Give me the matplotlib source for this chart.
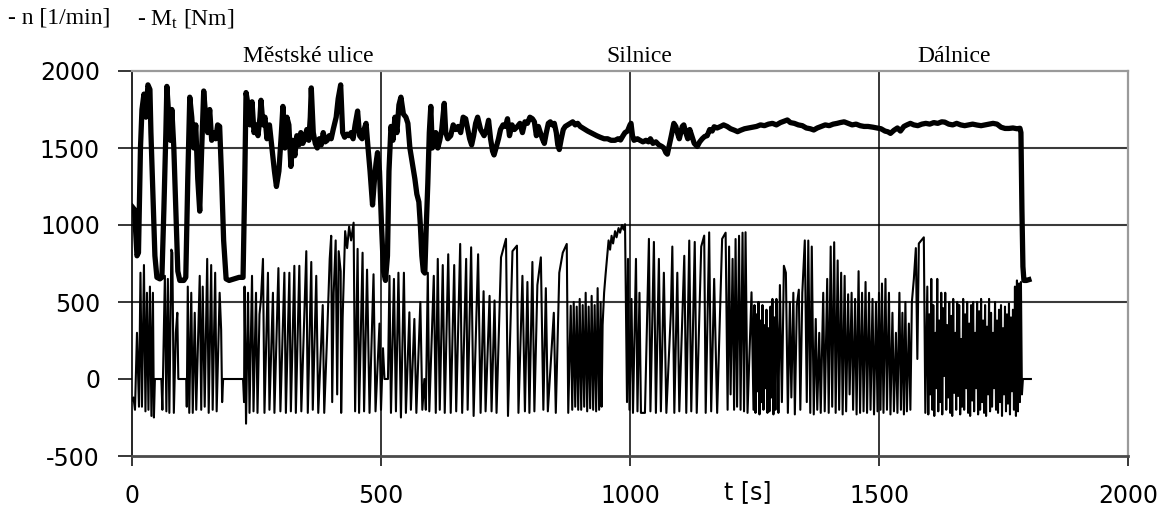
import matplotlib
matplotlib.use("Agg")
import matplotlib.pyplot as plt
import matplotlib.transforms as mtransforms

# ---------------- data ----------------
x_ticks = [0, 500, 1000, 1500, 2000]
y_ticks = [-500, 0, 500, 1000, 1500, 2000]
section_labels = ["Městské ulice", "Silnice", "Dálnice"]
section_pos = [355, 1019, 1651]          # t [s] where the section labels are centred

# engine speed n [1/min]
n_t = [0, 5, 10, 13, 17, 20, 24, 28, 32, 36, 38, 42, 46, 50, 56, 60, 64, 68, 70, 74,
       77, 80, 84, 88, 92, 96, 104, 108, 112, 116, 120, 124, 128, 132, 136, 140, 144, 148, 152, 156,
       160, 164, 168, 172, 176, 180, 184, 189, 195, 205, 215, 223, 226, 229, 233, 237, 241, 245, 249, 253,
       257, 259, 263, 267, 271, 276, 281, 286, 290, 295, 300, 303, 307, 311, 315, 319, 323, 327, 331, 335,
       339, 343, 347, 351, 355, 358, 360, 364, 368, 372, 376, 380, 384, 388, 392, 396, 400, 404, 410, 414,
       419, 423, 427, 432, 436, 440, 444, 448, 453, 457, 462, 466, 470, 474, 478, 483, 487, 490, 493, 497,
       501, 505, 509, 513, 516, 520, 524, 528, 532, 536, 540, 545, 550, 554, 558, 563, 568, 572, 576, 579,
       582, 585, 588, 591, 594, 597, 600, 603, 606, 610, 614, 618, 622, 627, 630, 634, 640, 645, 650, 655,
       660, 665, 670, 673, 678, 682, 686, 690, 694, 700, 707, 712, 716, 720, 724, 727, 731, 736, 740, 745,
       750, 754, 758, 763, 768, 774, 779, 784, 789, 794, 799, 804, 808, 812, 816, 820, 824, 828, 832, 836,
       840, 844, 848, 852, 855, 858, 862, 866, 870, 875, 880, 885, 890, 895, 900, 905, 910, 915, 921, 927,
       933, 940, 948, 955, 962, 970, 976, 981, 986, 990, 995, 1000, 1002, 1005, 1008, 1015, 1020, 1026, 1032, 1037,
       1041, 1046, 1052, 1058, 1064, 1068, 1072, 1075, 1079, 1083, 1088, 1092, 1096, 1099, 1102, 1105, 1108, 1112, 1116, 1120,
       1124, 1129, 1132, 1135, 1140, 1145, 1150, 1155, 1160, 1165, 1169, 1175, 1182, 1188, 1195, 1202, 1210, 1216, 1222, 1230,
       1238, 1246, 1254, 1262, 1270, 1278, 1286, 1294, 1302, 1310, 1316, 1322, 1330, 1338, 1346, 1354, 1362, 1369, 1376, 1384,
       1392, 1400, 1408, 1416, 1422, 1430, 1438, 1446, 1454, 1462, 1470, 1478, 1488, 1496, 1504, 1512, 1518, 1523, 1530, 1537,
       1543, 1550, 1556, 1563, 1570, 1578, 1586, 1594, 1602, 1610, 1618, 1626, 1632, 1640, 1648, 1656, 1664, 1672, 1680, 1688,
       1697, 1705, 1713, 1721, 1729, 1737, 1745, 1753, 1761, 1769, 1777, 1783, 1785, 1787, 1789, 1791, 1796, 1801]
n_v = [1120, 1100, 800, 820, 1500, 1750, 1850, 1700, 1910, 1880, 1600, 1200, 800, 660, 650, 660, 1100, 1600, 1900, 1700,
       1550, 1750, 1500, 1100, 700, 640, 640, 660, 1300, 1830, 1700, 1500, 1650, 1300, 1090, 1500, 1870, 1700, 1600, 1750,
       1550, 1600, 1560, 1650, 1640, 1300, 900, 650, 640, 650, 660, 660, 1200, 1860, 1780, 1650, 1800, 1600, 1650, 1580,
       1700, 1810, 1650, 1700, 1560, 1650, 1500, 1350, 1250, 1350, 1600, 1770, 1500, 1700, 1650, 1380, 1550, 1450, 1580, 1520,
       1600, 1530, 1560, 1620, 1550, 1700, 1890, 1600, 1530, 1500, 1560, 1520, 1600, 1540, 1550, 1580, 1560, 1620, 1700, 1820,
       1910, 1600, 1570, 1590, 1580, 1600, 1560, 1650, 1740, 1580, 1560, 1620, 1660, 1500, 1350, 1130, 1300, 1400, 1470, 1350,
       1000, 700, 640, 800, 1350, 1640, 1550, 1700, 1600, 1780, 1830, 1720, 1700, 1660, 1500, 1400, 1300, 1200, 1150, 1000,
       800, 700, 688, 1000, 1270, 1600, 1770, 1500, 1530, 1600, 1500, 1550, 1620, 1790, 1600, 1560, 1580, 1650, 1620, 1640,
       1600, 1700, 1690, 1640, 1560, 1520, 1580, 1660, 1700, 1620, 1580, 1620, 1680, 1560, 1480, 1455, 1500, 1560, 1620, 1650,
       1640, 1690, 1580, 1650, 1620, 1640, 1660, 1600, 1670, 1660, 1700, 1690, 1670, 1580, 1640, 1600, 1560, 1530, 1600, 1660,
       1670, 1650, 1660, 1600, 1520, 1490, 1560, 1620, 1640, 1650, 1660, 1670, 1650, 1660, 1640, 1630, 1620, 1610, 1600, 1590,
       1580, 1570, 1560, 1560, 1550, 1550, 1560, 1552, 1580, 1600, 1610, 1650, 1660, 1580, 1550, 1560, 1550, 1540, 1550, 1540,
       1560, 1530, 1540, 1520, 1510, 1500, 1470, 1460, 1520, 1580, 1660, 1640, 1590, 1560, 1600, 1640, 1650, 1600, 1560, 1620,
       1580, 1530, 1520, 1510, 1540, 1560, 1575, 1580, 1620, 1610, 1638, 1630, 1640, 1650, 1640, 1625, 1615, 1606, 1615, 1625,
       1630, 1635, 1640, 1650, 1645, 1655, 1660, 1650, 1665, 1675, 1682, 1665, 1660, 1650, 1645, 1630, 1625, 1617, 1630, 1640,
       1650, 1645, 1655, 1660, 1665, 1670, 1660, 1650, 1655, 1645, 1640, 1640, 1635, 1630, 1625, 1610, 1605, 1595, 1615, 1630,
       1610, 1640, 1650, 1660, 1650, 1645, 1655, 1660, 1655, 1665, 1660, 1670, 1668, 1655, 1650, 1660, 1650, 1645, 1650, 1655,
       1649, 1645, 1650, 1655, 1660, 1655, 1635, 1627, 1627, 1630, 1625, 1628, 1600, 1100, 730, 640, 640, 645]

# torque Mt [Nm] -- city and road part (0 ... 1248 s)
mt_a_t = [0, 3, 6, 10, 14, 17, 20, 24, 27, 30, 33, 36, 39, 42, 44, 46, 59,
          61, 66, 69, 72, 75, 79, 81, 84, 88, 91, 93, 109,
          110, 112, 115, 119, 122, 126, 129, 133, 136, 139, 142, 146, 151, 154, 159, 162, 167, 170, 176, 179, 181, 183, 223,
          225, 226, 229, 233, 236, 241, 244, 249, 252, 256, 259, 263, 266, 273, 276, 283, 286, 294, 298,
          306, 309, 316, 319, 326, 329, 336, 340, 350, 353, 360, 363, 370, 374, 383, 386, 392, 397, 400, 402,
          405, 409, 412, 415, 419, 420, 423, 428, 432, 436, 440, 445, 448, 453, 456, 463, 466, 472, 477, 485,
          489, 497, 500, 504, 507, 514, 517, 520, 526, 530, 535, 540, 546, 550, 557, 560, 567, 571, 579, 583,
          587, 590, 594, 597,
          606, 610, 614, 618, 624, 628, 635, 640, 647, 651, 659, 663, 671, 674, 681, 686, 695, 700, 706, 710,
          718, 722, 728, 732, 741, 751, 755, 764, 773, 776, 784, 789, 794, 798, 804, 808, 814, 821, 826, 831,
          835, 847, 851, 858, 865, 873, 876, 881, 884, 887, 890, 893, 896,
          899, 902, 905, 908, 911, 914, 917, 920, 923, 926, 929, 932, 935, 938, 941, 943, 945, 948, 951, 954,
          957, 960, 963, 966, 970, 973, 977, 980, 984, 987, 990, 994, 996, 999, 1003, 1006, 1012, 1015, 1019, 1022,
          1030, 1038, 1041, 1048, 1052, 1058, 1062, 1068, 1073, 1082, 1085, 1089, 1095, 1099, 1109, 1113, 1119, 1123, 1130, 1134,
          1143, 1149, 1152, 1159, 1163, 1169, 1175, 1185, 1192, 1196,
          1199, 1202, 1206, 1209, 1212, 1215, 1219, 1222, 1226, 1229, 1232, 1236, 1244, 1248]
mt_a_v = [-140, -120, -200, 300, -180, 690, -180, 740, -210, 560, -200, 600, -240, 560, -250, 0, 0,
          -200, 670, -210, 650, -220, 840, 820, -220, 300, 430, 0, 0,
          -180, 600, -220, 560, -220, 430, -200, 300, 670, -200, 600, -180, 780, -220, 740, -200, 690, -210, 560, 320, -150, 0, 0,
          -150, 600, -290, 560, -220, 670, -210, 560, -220, 420, 520, 780, -220, 690, -200, 560, -220, 720, -210,
          690, -220, 690, -210, 735, -220, 735, -210, 830, -220, 760, -200, 670, -220, 480, -220, 300, 780, 930, -150,
          560, 900, -100, 830, 700, -220, 400, 960, 850, 990, 900, 1015, -210, 845, -220, 820, -210, 710, -220, 680,
          -210, 360, -200, 200, 0, 0, 670, -220, 650, -210, 690, -250, 690, -220, 433, -200, 390, -220, 500, -200,
          0, -200, 690, -210,
          670, -220, 780, -200, 740, -220, 810, -220, 740, -210, 877, -220, 780, -200, 855, -240, 810, -220, 570, -210,
          540, -210, 510, -220, 790, 910, -240, 830, 866, -220, 670, -210, 630, -220, 760, -210, 610, 790, -200, 590,
          -210, 430, -220, 690, 820, 877, -220, 476, -200, 500, -180, 470, -200,
          520, -200, 480, -180, 560, -210, 470, -190, 540, -200, 480, -210, 590, -200, 500, -180, 350, 560, 680, 790,
          900, 840, 930, 880, 960, 920, 980, 950, 1000, 970, 1005, -150, 780, -200, 520, -220, 780, -210, 560, -220,
          -220, 910, -210, 890, -220, 780, -210, 690, -220, 430, 860, -220, 690, -210, 800, -220, 899, -210, 890, -220,
          860, 931, -220, 952, -210, 650, -220, 910, 950, -200,
          860, -100, 780, -200, 909, -180, 930, -200, 950, -210, 953, -220, 563, -200]

# torque -- dense part 1250 ... 1298 s
mt_b_t = [1250, 1252, 1254, 1256, 1258, 1260, 1262, 1264, 1266, 1268, 1270, 1272, 1274,
          1276, 1278, 1280, 1282, 1284, 1286, 1288, 1290, 1292, 1294, 1296, 1298]
mt_b_v = [480, -220, 420, -80, 500, -230, 380, -150, 480, -200, 350, -60, 450,
          -220, 330, -210, 470, -120, 520, -230, 400, -200, 520, 300, -220]

# torque -- 1301 ... 1593 s
mt_c_t = [1301, 1305, 1309, 1313, 1317, 1321, 1324, 1328, 1331, 1335, 1339, 1342, 1346, 1351, 1355, 1358, 1362, 1365, 1369, 1373,
          1376, 1380, 1383, 1388, 1391, 1396, 1399, 1403, 1406, 1410, 1413, 1417, 1420, 1424, 1427, 1431, 1434, 1438, 1441, 1445,
          1448, 1452, 1455, 1459, 1462, 1466, 1469, 1473, 1476, 1480, 1483, 1487, 1490, 1494, 1497,
          1500, 1503, 1506, 1509, 1513, 1516, 1520, 1523, 1527, 1530, 1534, 1537, 1541, 1544, 1547, 1550, 1553, 1556, 1560, 1563,
          1566, 1570, 1574, 1577, 1580, 1585, 1590, 1593]
mt_c_v = [610, -150, 735, 690, -220, 500, -120, 560, -230, 480, 580, -200, 560, 900, -150, 899, -220, 860, -230, 390,
          -200, 300, -220, 560, -210, 650, -220, 860, -180, 888, -220, 770, -200, 690, -230, 670, -210, 550, -100, 560,
          -200, 520, -230, 700, -220, 560, -210, 630, -220, 560, -200, 520, -230, 500, -210,
          560, -200, 620, -220, 650, -200, 560, -230, 430, -210, 300, -220, 560, -200, 430, -230, 500, -210, 360, -200,
          500, 650, 850, 130, 880, 900, 920, -220]

# torque -- dense motorway part 1597 ... 1805 s
mt_d_t = [1597, 1599, 1601, 1603, 1605, 1607, 1609, 1611, 1613, 1615, 1617, 1619, 1621, 1623, 1625, 1627, 1629, 1631, 1633, 1635,
          1637, 1639, 1641, 1643, 1645, 1647, 1649, 1651, 1653, 1655, 1657, 1659, 1661, 1663, 1665, 1667, 1669, 1671, 1673, 1675,
          1677, 1679, 1681, 1683, 1685, 1687, 1689, 1691, 1693, 1695, 1697, 1699, 1701, 1703, 1705, 1707, 1709, 1711, 1713, 1715,
          1717, 1719, 1721, 1723, 1725, 1727, 1729, 1731, 1733, 1735, 1737, 1739, 1741, 1743, 1745, 1747, 1749, 1751, 1753, 1755,
          1757, 1759, 1761, 1763, 1765, 1767, 1769, 1771, 1773, 1775, 1777, 1779, 1781, 1783, 1785, 1787, 1789, 1805]
mt_d_v = [600, -230, 420, -100, 650, -200, 480, -240, 300, -60, 650, -210, 380, -150, 560, -230, 460, 20, 560, -200,
          350, -120, 500, -220, 410, -240, 520, -90, 300, -200, 500, -110, 480, -230, 260, -180, 520, -200, 420, -60,
          500, -220, 360, -240, 480, -140, 500, -210, 300, -60, 500, -230, 440, -200, 520, -150, 380, -220, 480, -240,
          340, -100, 520, -210, 430, -180, 300, -60, 500, -200, 380, -220, 450, -150, 480, -240, 330, -100, 470, -210,
          420, -160, 490, -230, 400, -80, 450, -200, 600, -240, 640, -210, 620, -150, 630, -100, 0, 0]

m_t = mt_a_t + mt_b_t + mt_c_t + mt_d_t
m_v = mt_a_v + mt_b_v + mt_c_v + mt_d_v

# ---------------- figure ----------------
plt.rcParams['mathtext.fontset'] = 'custom'
plt.rcParams['mathtext.rm'] = 'Liberation Serif'
plt.rcParams['mathtext.it'] = 'Liberation Serif:italic'

W, H = 1168, 509
fig = plt.figure(figsize=(W / 100, H / 100), dpi=100)
ax = fig.add_axes([132 / W, 1 - 456 / H, (1128 - 132) / W, (456 - 71) / H])
ax.set_xlim(0, 2000)
ax.set_ylim(-500, 2000)

for yv in [500, 1000, 1500]:
    ax.axhline(yv, color='#3a3a3a', lw=1.5, zorder=1)
for xv in [500, 1000, 1500]:
    ax.axvline(xv, color='black', lw=1.1, zorder=1)

ax.plot(m_t, m_v, color='black', lw=1.5, zorder=2)
ax.plot(n_t, n_v, color='black', lw=3.8, zorder=3, solid_joinstyle='round')

ax.set_xticks(x_ticks)
ax.set_yticks(y_ticks)
ax.set_xticklabels([str(v) for v in x_ticks])
ax.set_yticklabels([str(v) for v in y_ticks])
ax.tick_params(axis='y', direction='out', length=10, width=1.1, pad=13, labelsize=17)
ax.tick_params(axis='x', direction='out', length=7, width=1.1, pad=13, labelsize=17)

for s in ['top', 'right']:
    ax.spines[s].set_color('#9a9a9a')
    ax.spines[s].set_linewidth(1.6)
ax.spines['left'].set_color('black')
ax.spines['left'].set_linewidth(1.2)
ax.spines['bottom'].set_color('#4a4a4a')
ax.spines['bottom'].set_linewidth(2.0)

fig.text(748 / W, 1 - 492 / H, 't [s]', ha='center', va='center', fontsize=17)

serif = ['Liberation Serif', 'DejaVu Serif']
fig.text(8 / W, 1 - 18 / H, '- n [1/min]', ha='left', va='center', fontsize=17, family=serif)
fig.text(137 / W, 1 - 18 / H, r'- M$_{\mathrm{t}}$ [Nm]', ha='left', va='center', fontsize=17, family=serif)

trans = mtransforms.blended_transform_factory(ax.transData, ax.transAxes)
for lab, xp in zip(section_labels, section_pos):
    ax.text(xp, 1 + 9 / 385, lab, transform=trans, ha='center', va='baseline',
            fontsize=17, family=serif, clip_on=False)

fig.savefig('out.png', dpi=100)
